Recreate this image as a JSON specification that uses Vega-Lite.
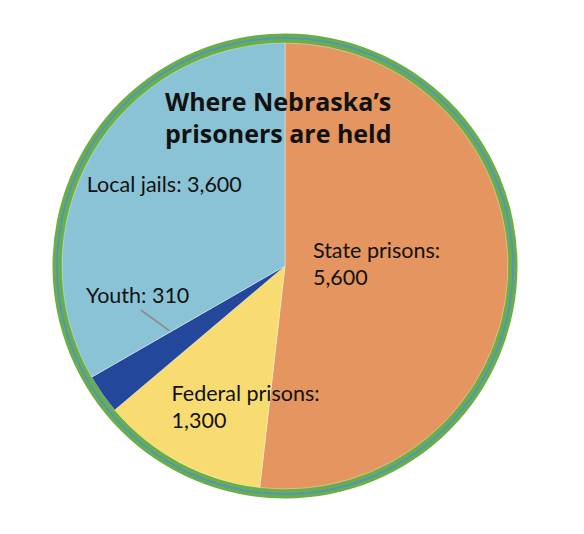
{
  "$schema": "https://vega.github.io/schema/vega-lite/v6.json",
  "width": 584,
  "height": 534,
  "autosize": {"type": "fit", "contains": "padding"},
  "padding": {"left": 0, "right": 14, "top": 0, "bottom": 2},
  "background": "white",
  "view": {"stroke": null},
  "config": {"font": "Lato"},
  "data": {
    "values": [
      {"category": "State prisons", "value": 5600, "order": 1, "label": ["State prisons:", "5,600"]},
      {"category": "Federal prisons", "value": 1300, "order": 2, "label": ["Federal prisons:", "1,300"]},
      {"category": "Youth", "value": 310, "order": 3, "label": ["Youth: 310"]},
      {"category": "Local jails", "value": 3600, "order": 4, "label": ["Local jails: 3,600"]}
    ]
  },
  "layer": [
    {
      "data": {"values": [{"ring": "outer"}]},
      "mark": {"type": "arc", "theta": 0, "theta2": 6.2832, "radius": 232.5, "radius2": 221.5, "color": "#6AAE48"},
      "encoding": {}
    },
    {
      "data": {"values": [{"ring": "inner"}]},
      "mark": {"type": "arc", "theta": 0, "theta2": 6.2832, "radius": 228.8, "radius2": 227.3, "color": "#4C8EE3"},
      "encoding": {}
    },
    {
      "mark": {"type": "arc", "radius": 223, "stroke": "#ffffff", "strokeWidth": 1, "strokeOpacity": 0.35},
      "encoding": {
        "theta": {"field": "value", "type": "quantitative", "stack": true},
        "order": {"field": "order", "type": "quantitative"},
        "color": {
          "field": "category",
          "type": "nominal",
          "scale": {
            "domain": ["State prisons", "Federal prisons", "Youth", "Local jails"],
            "range": ["#E5955F", "#F8DC71", "#23479A", "#8AC3D5"]
          },
          "legend": null
        }
      }
    },
    {
      "mark": {"type": "text", "radius": 27.5, "dx": 0.5, "dy": -10, "align": "left", "baseline": "alphabetic", "fontSize": 21.5, "lineHeight": 27.3, "color": "#111111"},
      "encoding": {
        "theta": {"field": "value", "type": "quantitative", "stack": true},
        "order": {"field": "order", "type": "quantitative"},
        "text": {"condition": {"test": "datum.category === 'State prisons'", "field": "label", "type": "nominal"}, "value": ""}
      }
    },
    {
      "mark": {"type": "text", "radius": 172.4, "dx": -32.1, "dy": -17.1, "align": "left", "baseline": "alphabetic", "fontSize": 21.5, "lineHeight": 26.7, "color": "#111111"},
      "encoding": {
        "theta": {"field": "value", "type": "quantitative", "stack": true},
        "order": {"field": "order", "type": "quantitative"},
        "text": {"condition": {"test": "datum.category === 'Federal prisons'", "field": "label", "type": "nominal"}, "value": ""}
      }
    },
    {
      "mark": {"type": "text", "radius": 184.1, "dx": -48.2, "dy": -68.9, "align": "left", "baseline": "alphabetic", "fontSize": 21.5, "color": "#111111"},
      "encoding": {
        "theta": {"field": "value", "type": "quantitative", "stack": true},
        "order": {"field": "order", "type": "quantitative"},
        "text": {"condition": {"test": "datum.category === 'Youth'", "field": "label", "type": "nominal"}, "value": ""}
      }
    },
    {
      "mark": {"type": "text", "radius": 208.9, "dx": -17.4, "dy": 30.2, "align": "left", "baseline": "alphabetic", "fontSize": 21.5, "color": "#111111"},
      "encoding": {
        "theta": {"field": "value", "type": "quantitative", "stack": true},
        "order": {"field": "order", "type": "quantitative"},
        "text": {"condition": {"test": "datum.category === 'Local jails'", "field": "label", "type": "nominal"}, "value": ""}
      }
    },
    {
      "data": {"values": [{"leader": "Youth"}]},
      "mark": {"type": "point", "shape": "M -0.962 0.2933 L -0.7713 0.4313", "size": 90000, "filled": false, "stroke": "#8A8A8A", "strokeWidth": 1.6, "opacity": 1},
      "encoding": {}
    },
    {
      "data": {"values": [{"title": "Where Nebraska’s prisoners are held"}]},
      "mark": {"type": "text", "text": ["Where Nebraska’s", "prisoners are held"], "font": "Open Sans", "align": "left", "baseline": "alphabetic", "dx": -120, "dy": -155, "fontSize": 25, "fontWeight": "bold", "lineHeight": 32.3, "color": "#111111"},
      "encoding": {}
    }
  ]
}
